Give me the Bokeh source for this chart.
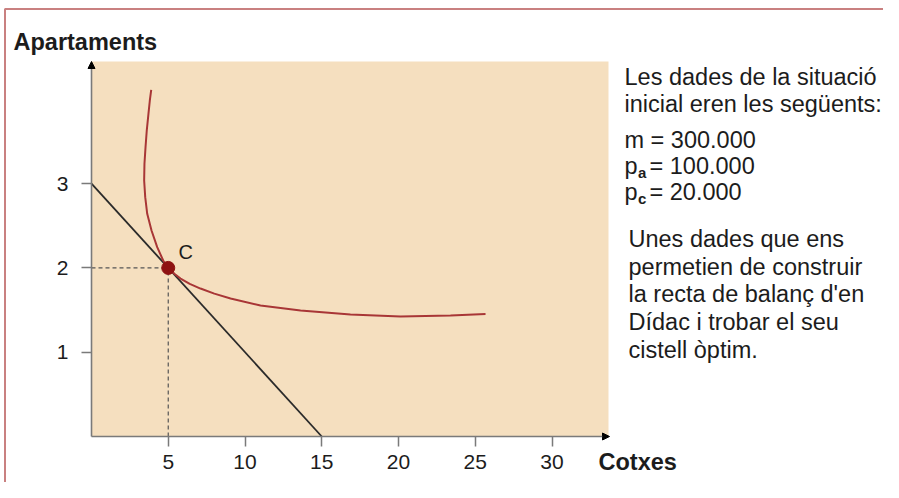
from bokeh.plotting import figure
from bokeh.models import Range1d, FixedTicker, Label, Arrow, NormalHead, BoxAnnotation
from bokeh.embed import file_html
from bokeh.resources import INLINE

# ---- data ----
budget_x = [0, 15]
budget_y = [3, 0]
optimum_x = [5]
optimum_y = [2]
ic_x = [3.89, 3.80, 3.71, 3.60, 3.52, 3.45, 3.43, 3.50, 3.63, 3.91, 4.28, 4.67, 5.00,
        5.40, 5.80, 6.40, 7.10, 8.00, 9.06, 11.01, 13.62, 16.87, 20.13, 23.39, 25.67]
ic_y = [4.113, 3.986, 3.828, 3.630, 3.432, 3.235, 3.037, 2.839, 2.642, 2.444, 2.246, 2.088, 2.00,
        1.930, 1.874, 1.810, 1.755, 1.695, 1.637, 1.554, 1.495, 1.447, 1.423, 1.435, 1.453]
x_ticks = [5, 10, 15, 20, 25, 30]
y_ticks = [1, 2, 3]
info_lines = ["Les dades de la situació", "inicial eren les següents:"]
note_lines = ["Unes dades que ens", "permetien de construir", "la recta de balanç d'en",
              "Dídac i trobar el seu", "cistell òptim."]

# ---- layout (canvas pixels) ----
W, H = 883, 482
ORIG_X, ORIG_Y = 91, 436          # pixel position of the (0, 0) corner
AREA_RIGHT, AREA_TOP = 608, 61    # extent of the shaded plotting area
PX_PER_X = 15.35
PX_PER_Y = 84.3


def X(px):
    return (px - ORIG_X) / PX_PER_X


def Y(py):
    return (ORIG_Y - py) / PX_PER_Y


FONT = "Liberation Sans"
TXT = "#1c1c1c"
AX = "#7a7a7a"

p = figure(width=W, height=H, output_backend="svg", toolbar_location=None,
           x_range=Range1d(X(0), X(W)), y_range=Range1d(Y(H), Y(0)),
           min_border=0, min_border_left=0, min_border_right=0,
           min_border_top=0, min_border_bottom=0)
p.background_fill_color = "white"
p.border_fill_color = "white"
p.outline_line_color = None
p.xgrid.visible = False
p.ygrid.visible = False

# shaded plotting area
p.add_layout(BoxAnnotation(left=0, right=X(AREA_RIGHT), bottom=0, top=Y(AREA_TOP),
                           fill_color="#f5dfbf", fill_alpha=1, line_color=None,
                           level="underlay"))

p.xaxis.bounds = (0, X(AREA_RIGHT - 4))
p.yaxis.bounds = (0, Y(AREA_TOP + 4))
for ax, ticks in ((p.xaxis, x_ticks), (p.yaxis, y_ticks)):
    ax.fixed_location = 0
    ax.ticker = FixedTicker(ticks=ticks)
    ax.axis_line_color = AX
    ax.axis_line_width = 1.6
    ax.major_tick_line_color = AX
    ax.major_tick_line_width = 1.5
    ax.major_tick_in = 0
    ax.major_tick_out = 10
    ax.minor_tick_line_color = None
    ax.major_label_text_font = FONT
    ax.major_label_text_font_size = "21px"
    ax.major_label_text_color = TXT
p.xaxis.major_label_standoff = 8
p.yaxis.major_label_standoff = 13

# dashed guides
p.line([0, optimum_x[0]], [optimum_y[0], optimum_y[0]], line_color="#555555", line_width=1.2, line_dash="4 3")
p.line([optimum_x[0], optimum_x[0]], [0, optimum_y[0]], line_color="#555555", line_width=1.2, line_dash="4 3")

# budget line
p.line(budget_x, budget_y, line_color="#2a2a2a", line_width=1.8)
# indifference curve
p.line(ic_x, ic_y, line_color="#a83636", line_width=2, line_join="round")
# optimum
p.scatter(optimum_x, optimum_y, size=13, fill_color="#8e1212", line_color="#8e1212")

# axis arrow heads
p.add_layout(Arrow(end=NormalHead(size=7, fill_color="black", line_color="black"),
                   x_start=0, y_start=Y(AREA_TOP + 6), x_end=0, y_end=Y(AREA_TOP),
                   line_color=AX, line_width=1.5))
p.add_layout(Arrow(end=NormalHead(size=7, fill_color="black", line_color="black"),
                   x_start=X(AREA_RIGHT - 6), y_start=0, x_end=X(AREA_RIGHT + 1), y_end=0,
                   line_color=AX, line_width=1.5))

# frame border (top and left)
p.segment(x0=[X(4), X(4.5)], y0=[Y(8.5), Y(8.5)], x1=[X(W), X(4.5)], y1=[Y(8.5), Y(H)],
          line_color="#c98080", line_width=2)


def label(text, px, py, size, bold=False, align="left"):
    # py is the wanted baseline in pixels; correct for Bokeh's placement offset
    py = py - 0.43 * size
    p.add_layout(Label(x=X(px), y=Y(py), text=text, text_font=FONT, text_font_size=f"{size}px",
                       text_font_style="bold" if bold else "normal", text_color=TXT,
                       text_align=align, text_baseline="alphabetic"))


# axis titles
label("Apartaments", 13, 51.5, 23.5, bold=True)
label("Cotxes", 598, 471.5, 23.5, bold=True)
label("C", 178, 260, 20)

# info block
label(info_lines[0], 624, 86.5, 23.5)
label(info_lines[1], 624, 114, 23.5)
label("m = 300.000", 624, 149.5, 23.5)
label("p", 624, 175.5, 23.5)
label("a", 637.5, 178.5, 15, bold=True)
label("= 100.000", 649, 175.5, 23.5)
label("p", 624, 201.5, 23.5)
label("c", 637.5, 204.5, 15, bold=True)
label("= 20.000", 649, 201.5, 23.5)

for i, t in enumerate(note_lines):
    label(t, 628, 248.5 + i * 27.7, 23.5)

open("out.html", "w").write(file_html(p, INLINE))
